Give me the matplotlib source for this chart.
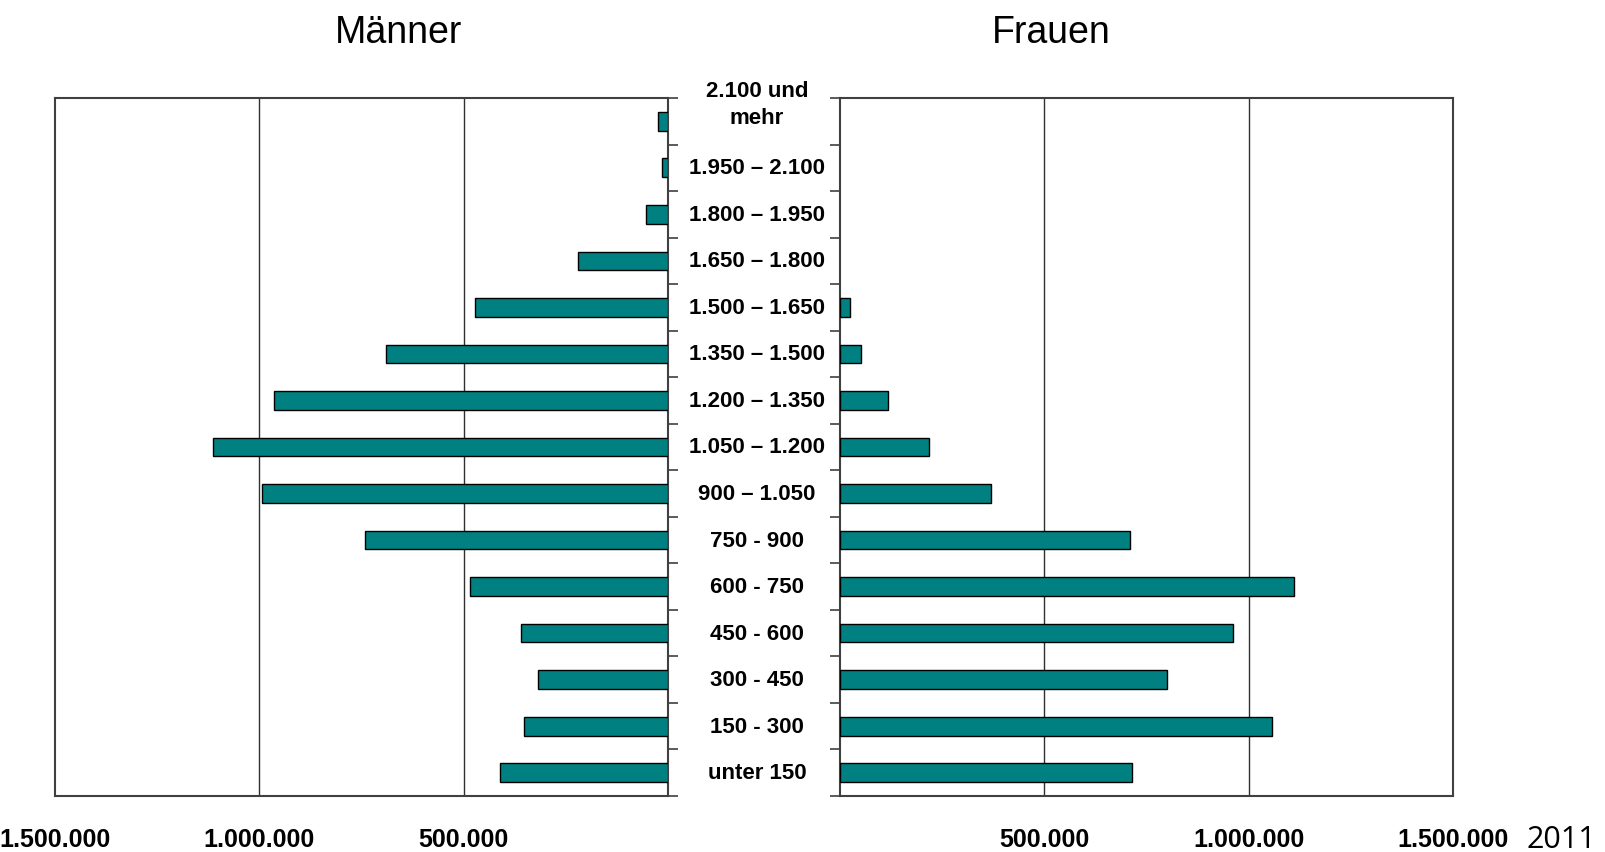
import matplotlib
matplotlib.use("Agg")
import matplotlib.pyplot as plt
import matplotlib.transforms as mtransforms
import numpy as np

# income classes, bottom to top
classes = ['unter 150', '150 - 300', '300 - 450', '450 - 600', '600 - 750',
           '750 - 900', '900 – 1.050', '1.050 – 1.200', '1.200 – 1.350',
           '1.350 – 1.500', '1.500 – 1.650', '1.650 – 1.800', '1.800 – 1.950',
           '1.950 – 2.100', '2.100 und\nmehr']
maenner = [410000, 352000, 319000, 359000, 485000, 741000, 993000, 1113000,
           965000, 689000, 472000, 221000, 55000, 15000, 25000]
frauen = [715000, 1057000, 800000, 962000, 1110000, 710000, 370000, 217000,
          117000, 52000, 25000, 0, 0, 0, 0]
xticks = [500000, 1000000, 1500000]
xticklabels = ['500.000', '1.000.000', '1.500.000']

font = ['Liberation Sans', 'DejaVu Sans']
teal = '#008080'
spine_col = '#404040'

fig = plt.figure(figsize=(16.05, 8.53), dpi=100)
axL = fig.add_axes([55 / 1605, 1 - 797 / 853, 613 / 1605, 698 / 853])
axR = fig.add_axes([840 / 1605, 1 - 797 / 853, 613 / 1605, 698 / 853])

y = np.arange(len(classes))
height = 0.4

for ax, vals in ((axL, maenner), (axR, frauen)):
    lw = [1 if v > 0 else 0 for v in vals]
    ax.barh(y, vals, height, color=teal, edgecolor='black', linewidth=lw, zorder=3)

for ax in (axL, axR):
    ax.set_xlim(0, 1500000)
    ax.set_ylim(-0.5, len(classes) - 0.5)
    ax.set_yticks([])
    ax.set_yticks(np.arange(-0.5, len(classes)), minor=True)
    ax.set_xticks(xticks)
    ax.set_xticklabels(xticklabels, fontfamily=font, fontweight='bold', fontsize=18)
    ax.tick_params(axis='x', length=0, pad=22)
    for s in ax.spines.values():
        s.set_color(spine_col)
        s.set_linewidth(1.5)
    for v in xticks[:-1]:
        ax.axvline(v, color='#303030', linewidth=1, zorder=1)

axL.invert_xaxis()
axL.yaxis.tick_right()
axL.tick_params(axis='y', which='minor', direction='out', length=7, width=1.2,
                color=spine_col, right=True, left=False)
axR.tick_params(axis='y', which='minor', direction='out', length=7, width=1.2,
                color=spine_col, left=True, right=False)

# class labels between the two panels
trans = mtransforms.blended_transform_factory(fig.transFigure, axL.transData)
for i, lab in enumerate(classes):
    yy = i + 0.37 if '\n' in lab else i
    fig.text(757 / 1605, yy, lab, transform=trans, ha='center', va='center',
             fontfamily=font, fontweight='bold', fontsize=16, linespacing=1.35)

fig.text(399 / 1605, 1 - 33 / 853, 'Männer', ha='center', va='center',
         fontfamily=font, fontsize=27)
fig.text(1051 / 1605, 1 - 33 / 853, 'Frauen', ha='center', va='center',
         fontfamily=font, fontsize=27)
fig.text(1526 / 1605, 1 - 840 / 853, '2011', ha='left', va='center',
         fontfamily=['Open Sans', 'DejaVu Sans'], fontsize=22)

fig.savefig('out.png', dpi=100)
